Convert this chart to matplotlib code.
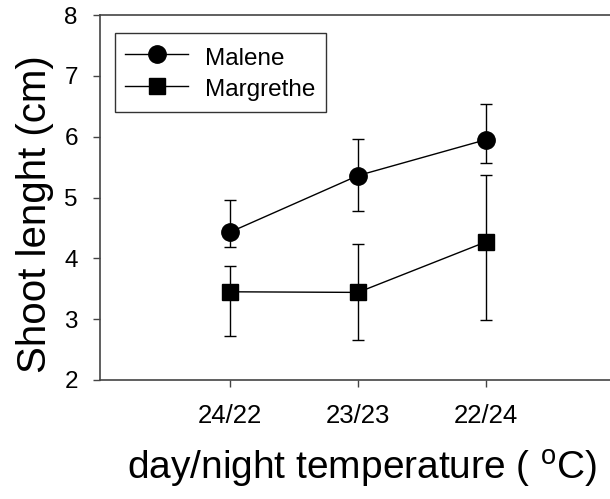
import matplotlib
matplotlib.use("Agg")
import matplotlib.pyplot as plt
from matplotlib.lines import Line2D
import numpy as np

plt.rcParams['font.family'] = ['Liberation Sans', 'DejaVu Sans']
plt.rcParams['mathtext.fontset'] = 'custom'
plt.rcParams['mathtext.rm'] = 'Liberation Sans'

categories = ["24/22", "23/23", "22/24"]
malene = [4.43, 5.36, 5.95]
malene_err_low = [0.25, 0.58, 0.38]
malene_err_high = [0.53, 0.60, 0.59]
margrethe = [3.45, 3.44, 4.27]
margrethe_err_low = [0.72, 0.78, 1.28]
margrethe_err_high = [0.43, 0.79, 1.10]
yticks = [2, 3, 4, 5, 6, 7, 8]

fig = plt.figure(figsize=(6.10, 4.99), dpi=100)
ax = fig.add_axes([100/610, 1 - 380/499, 510/610, 365/499])

x = np.arange(1, len(categories) + 1)
ax.errorbar(x, malene, yerr=[malene_err_low, malene_err_high], color='black',
            marker='o', markersize=12.5, linewidth=1.0, elinewidth=1.0,
            capsize=4.3, capthick=1.0, zorder=3)
ax.errorbar(x, margrethe, yerr=[margrethe_err_low, margrethe_err_high], color='black',
            marker='s', markersize=11, linewidth=1.0, elinewidth=1.0,
            capsize=4.3, capthick=1.0, zorder=3)

ax.set_xlim(-0.016, 3.97)
ax.set_ylim(2, 8)
ax.set_xticks(x)
ax.set_xticklabels(categories, fontsize=18.5)
ax.set_yticks(yticks)
ax.set_yticklabels([str(v) for v in yticks], fontsize=17.5)
ax.tick_params(axis='y', direction='out', length=5, width=1, color='#444444', pad=11)
ax.tick_params(axis='x', direction='out', length=5, width=1, color='#444444', pad=12)
for s in ['left', 'bottom', 'top']:
    ax.spines[s].set_color('#444444')
    ax.spines[s].set_linewidth(1.2)
ax.spines['right'].set_visible(False)

ax.set_ylabel('Shoot lenght (cm)', fontsize=29)
ax.yaxis.set_label_coords(-0.09, 0.455)
ax.set_xlabel(r'day/night temperature ( $^{\rm o}$C)', fontsize=28)
ax.xaxis.set_label_coords(0.514, -0.186)

handles = [Line2D([], [], color='black', marker='o', markersize=12.5, linewidth=1.0),
           Line2D([], [], color='black', marker='s', markersize=11, linewidth=1.0)]
leg = ax.legend(handles, ['Malene', 'Margrethe'], loc='upper left',
                bbox_to_anchor=(15/510, 1 - 18/365), borderaxespad=0,
                fancybox=False, edgecolor='black', fontsize=17.5, handlelength=2.6,
                handleheight=1.3, handletextpad=0.7, borderpad=0.42,
                labelspacing=0.22, numpoints=1)
leg.get_frame().set_linewidth(1.0)

fig.savefig('out.png', dpi=100)
